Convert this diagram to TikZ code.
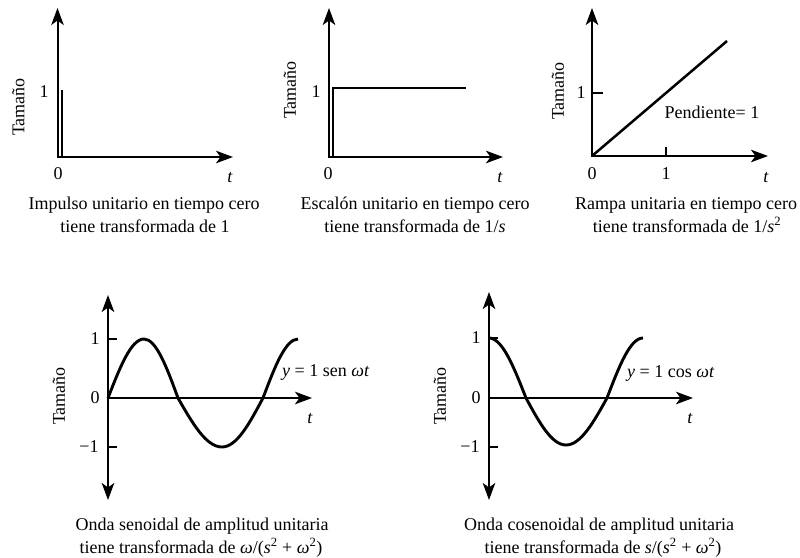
\documentclass[tikz,border=0pt]{standalone}
\usepackage{fontspec}
\setmainfont{Liberation Serif}
\usetikzlibrary{arrows.meta}
\begin{document}
\begin{tikzpicture}[x=1pt,y=-1pt,
  axtip/.tip={Stealth[length=17pt,width=12.5pt,inset=4.5pt]},
  axisline/.style={line width=2pt,-axtip},
  axisboth/.style={line width=2pt,axtip-axtip},
  sigline/.style={line width=2.5pt},
  waveline/.style={line width=2.9pt},
  tickmark/.style={line width=1.2pt},
  lbl/.style={inner sep=0pt,font=\fontsize{18}{22}\selectfont},
  captext/.style={inner sep=0pt,anchor=base,font=\fontsize{18}{22}\selectfont},
]
\useasboundingbox (0,0) rectangle (800,557);

% ---------- Panel 1: impulse ----------
\coordinate (a1) at (57.5,8);
\coordinate (o1) at (57.5,157);
\coordinate (b1) at (233,157);
\draw[axisboth] (a1) -- (o1) -- (b1);
\draw[sigline] (62,157) -- (62,90);
\node[lbl] (one1) at (44,92) {1};
\node[lbl] (zero1) at (58,174) {0};
\node[lbl] (t1) at (230,178) {\textit{t}};
\node[lbl,rotate=90] (tam1) at (18.5,107) {Tamaño};
\node[captext] (c1a) at (144,209) {Impulso unitario en tiempo cero};
\node[captext] (c1b) at (145,232) {tiene transformada de 1};

% ---------- Panel 2: step ----------
\coordinate (a2) at (329,8);
\coordinate (o2) at (329,157);
\coordinate (b2) at (503,157);
\draw[axisboth] (a2) -- (o2) -- (b2);
\draw[sigline] (333,157) -- (333,88) -- (466,88);
\node[lbl] (one2) at (316,92) {1};
\node[lbl] (zero2) at (328,174) {0};
\node[lbl] (t2) at (500,178) {\textit{t}};
\node[lbl,rotate=90] (tam2) at (290,90) {Tamaño};
\node[captext] (c2a) at (415,209) {Escalón unitario en tiempo cero};
\node[captext] (c2b) at (415,232) {tiene transformada de 1/\textit{s}};

% ---------- Panel 3: ramp ----------
\coordinate (a3) at (592,8);
\coordinate (o3) at (592,156);
\coordinate (b3) at (768,156);
\draw[axisboth] (a3) -- (o3) -- (b3);
\draw[sigline] (o3) -- (727,41);
\draw[tickmark] (592,93) -- (603,93);
\draw[tickmark] (666,156) -- (666,147);
\node[lbl] (one3) at (581,93) {1};
\node[lbl] (zero3) at (592,174) {0};
\node[lbl] (onex3) at (666,174) {1};
\node[lbl] (t3) at (766,178) {\textit{t}};
\node[lbl] (slope) at (712,112) {Pendiente= 1};
\node[lbl,rotate=90] (tam3) at (558,91) {Tamaño};
\node[captext] (c3a) at (686,209) {Rampa unitaria en tiempo cero};
\node[captext] (c3b) at (687,232) {tiene transformada de 1/\textit{s}\textsuperscript{2}};

% ---------- Panel 4: sine ----------
\coordinate (a4) at (108,295);
\coordinate (d4) at (108,500);
\coordinate (o4) at (108,398);
\coordinate (b4) at (312,398);
\draw[axisboth] (a4) -- (d4);
\draw[axisline] (o4) -- (b4);
\draw[tickmark] (108,339) -- (117,339);
\draw[tickmark] (108,447) -- (117,447);
\draw[waveline] (o4) sin (144,339) cos (178,398) sin (222,447) cos (263,398) sin (298,339);
\node[lbl] (one4) at (95,339) {1};
\node[lbl] (zero4) at (95,398) {0};
\node[lbl] (m4) at (89,447) {−1};
\node[lbl] (t4) at (310,419) {\textit{t}};
\node[lbl,anchor=west] (eq4) at (282,372) {\textit{y}\ =\ 1 sen \textit{ωt}};
\node[lbl,rotate=90] (tam4) at (59,396) {Tamaño};
\node[captext] (c4a) at (202,530) {Onda senoidal de amplitud unitaria};
\node[captext] (c4b) at (201,553) {tiene transformada de \textit{ω}/(\textit{s}\textsuperscript{2} + \textit{ω}\textsuperscript{2})};

% ---------- Panel 5: cosine ----------
\coordinate (a5) at (489,292);
\coordinate (d5) at (489,500);
\coordinate (o5) at (489,398);
\coordinate (b5) at (693,398);
\draw[axisboth] (a5) -- (d5);
\draw[axisline] (o5) -- (b5);
\draw[tickmark] (489,338) -- (498,338);
\draw[tickmark] (489,447) -- (498,447);
\draw[waveline] (489,338) cos (526,398) sin (566,445) cos (607,398) sin (643,338);
\node[lbl] (one5) at (476,338) {1};
\node[lbl] (zero5) at (476,398) {0};
\node[lbl] (m5) at (470,447) {−1};
\node[lbl] (t5) at (690,419) {\textit{t}};
\node[lbl,anchor=west] (eq5) at (627,373) {\textit{y}\ =\ 1 cos \textit{ωt}};
\node[lbl,rotate=90] (tam5) at (440,396) {Tamaño};
\node[captext] (c5a) at (599,530) {Onda cosenoidal de amplitud unitaria};
\node[captext] (c5b) at (603,553) {tiene transformada de \textit{s}/(\textit{s}\textsuperscript{2} + \textit{ω}\textsuperscript{2})};
\end{tikzpicture}
\end{document}
